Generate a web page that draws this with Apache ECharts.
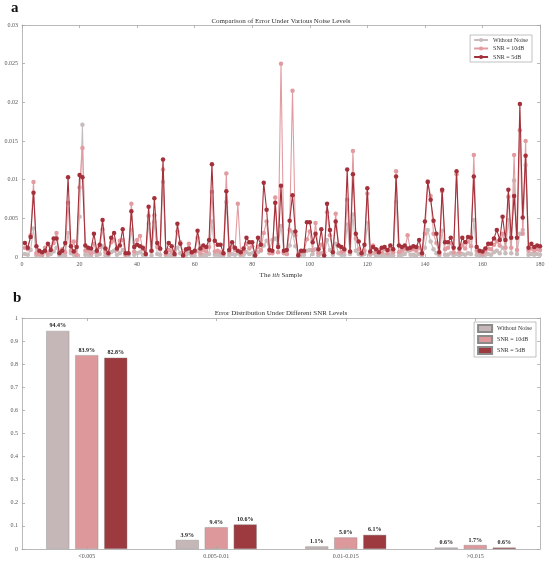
<!DOCTYPE html>
<html>
<head>
<meta charset="utf-8">
<script src="https://cdn.jsdelivr.net/npm/echarts@6/dist/echarts.min.js"></script>
<style>
    html, body {margin: 0; padding: 0; background: #fff;}
    #chartA {position: absolute; left: 0; top: 0; width: 546px; height: 282px;}
    #chartB {position: absolute; left: 0; top: 282px; width: 546px; height: 283px;}
</style>
</head>
<body>
<div id="chartA"></div>
<div id="chartB"></div>
<script>
// panel a: relative error per sample (samples 1..180)
const withoutNoise = [
    0.0004, 0.0003, 0.0009, 0.0037, 0.0002, 0.0003, 0.0002, 0.0006, 0.0002, 0.0004,
    0.0007, 0.0012, 0.0002, 0.0003, 0.0002, 0.0031, 0.0005, 0.0003, 0.0002, 0.0052,
    0.0171, 0.0003, 0.0003, 0.0002, 0.0006, 0.0002, 0.0004, 0.0014, 0.0002, 0.0002,
    0.0006, 0.0008, 0.0003, 0.0005, 0.0009, 0.0002, 0.0002, 0.0035, 0.0003, 0.0005,
    0.0006, 0.0003, 0.0002, 0.0043, 0.0002, 0.0045, 0.0004, 0.0003, 0.0097, 0.0002,
    0.0003, 0.0002, 0.0002, 0.0012, 0.0005, 0.0002, 0.0003, 0.0005, 0.0002, 0.0002,
    0.0008, 0.0002, 0.0003, 0.0002, 0.0004, 0.0046, 0.0003, 0.0003, 0.0002, 0.0002,
    0.0071, 0.0002, 0.0004, 0.0003, 0.0005, 0.0002, 0.0003, 0.0006, 0.0004, 0.0005,
    0.0002, 0.0006, 0.0008, 0.0015, 0.0021, 0.0009, 0.0022, 0.0024, 0.0016, 0.0040,
    0.0006, 0.0004, 0.0015, 0.0032, 0.0014, 0.0002, 0.0003, 0.0003, 0.0008, 0.0009,
    0.0004, 0.0010, 0.0002, 0.0005, 0.0002, 0.0022, 0.0009, 0.0003, 0.0017, 0.0005,
    0.0003, 0.0003, 0.0042, 0.0004, 0.0055, 0.0008, 0.0004, 0.0002, 0.0004, 0.0044,
    0.0003, 0.0005, 0.0002, 0.0003, 0.0002, 0.0003, 0.0002, 0.0003, 0.0002, 0.0071,
    0.0002, 0.0003, 0.0004, 0.0008, 0.0003, 0.0003, 0.0002, 0.0004, 0.0002, 0.0012,
    0.0035, 0.0020, 0.0010, 0.0005, 0.0002, 0.0034, 0.0003, 0.0003, 0.0005, 0.0002,
    0.0004, 0.0002, 0.0004, 0.0003, 0.0005, 0.0004, 0.0048, 0.0003, 0.0002, 0.0002,
    0.0003, 0.0004, 0.0003, 0.0006, 0.0008, 0.0005, 0.0012, 0.0005, 0.0048, 0.0005,
    0.0099, 0.0004, 0.0030, 0.0035, 0.0119, 0.0003, 0.0004, 0.0003, 0.0004, 0.0003
];
const snr10 = [
    0.0012, 0.0010, 0.0028, 0.0097, 0.0005, 0.0004, 0.0003, 0.0012, 0.0005, 0.0013,
    0.0018, 0.0031, 0.0006, 0.0010, 0.0006, 0.0070, 0.0008, 0.0020, 0.0003, 0.0090,
    0.0141, 0.0008, 0.0008, 0.0005, 0.0017, 0.0006, 0.0013, 0.0036, 0.0006, 0.0004,
    0.0019, 0.0022, 0.0009, 0.0021, 0.0022, 0.0003, 0.0005, 0.0069, 0.0007, 0.0022,
    0.0027, 0.0010, 0.0004, 0.0053, 0.0007, 0.0054, 0.0013, 0.0010, 0.0113, 0.0004,
    0.0009, 0.0007, 0.0003, 0.0033, 0.0019, 0.0005, 0.0008, 0.0017, 0.0005, 0.0006,
    0.0025, 0.0005, 0.0009, 0.0007, 0.0013, 0.0084, 0.0007, 0.0008, 0.0006, 0.0004,
    0.0108, 0.0006, 0.0013, 0.0009, 0.0069, 0.0004, 0.0008, 0.0017, 0.0011, 0.0014,
    0.0003, 0.0013, 0.0009, 0.0031, 0.0046, 0.0005, 0.0005, 0.0077, 0.0006, 0.0250,
    0.0005, 0.0004, 0.0035, 0.0215, 0.0028, 0.0004, 0.0006, 0.0007, 0.0023, 0.0033,
    0.0009, 0.0044, 0.0005, 0.0016, 0.0006, 0.0058, 0.0028, 0.0008, 0.0056, 0.0015,
    0.0006, 0.0008, 0.0074, 0.0006, 0.0137, 0.0024, 0.0010, 0.0004, 0.0008, 0.0082,
    0.0005, 0.0015, 0.0006, 0.0009, 0.0006, 0.0010, 0.0005, 0.0009, 0.0006, 0.0111,
    0.0006, 0.0008, 0.0010, 0.0028, 0.0009, 0.0010, 0.0008, 0.0012, 0.0004, 0.0030,
    0.0098, 0.0079, 0.0030, 0.0018, 0.0004, 0.0085, 0.0010, 0.0012, 0.0018, 0.0006,
    0.0107, 0.0006, 0.0015, 0.0011, 0.0020, 0.0014, 0.0132, 0.0008, 0.0006, 0.0004,
    0.0007, 0.0011, 0.0010, 0.0016, 0.0020, 0.0015, 0.0030, 0.0012, 0.0078, 0.0012,
    0.0132, 0.0009, 0.0164, 0.0030, 0.0150, 0.0008, 0.0011, 0.0008, 0.0010, 0.0009
];
const snr5 = [
    0.0018, 0.0012, 0.0026, 0.0083, 0.0014, 0.0008, 0.0006, 0.0008, 0.0017, 0.0009,
    0.0024, 0.0024, 0.0005, 0.0008, 0.0018, 0.0103, 0.0014, 0.0007, 0.0013, 0.0106,
    0.0103, 0.0015, 0.0012, 0.0011, 0.0030, 0.0008, 0.0016, 0.0048, 0.0011, 0.0005,
    0.0025, 0.0031, 0.0011, 0.0015, 0.0036, 0.0005, 0.0005, 0.0059, 0.0013, 0.0016,
    0.0014, 0.0012, 0.0004, 0.0065, 0.0008, 0.0076, 0.0018, 0.0011, 0.0126, 0.0006,
    0.0018, 0.0014, 0.0004, 0.0043, 0.0017, 0.0002, 0.0010, 0.0011, 0.0006, 0.0008,
    0.0034, 0.0011, 0.0015, 0.0013, 0.0022, 0.0120, 0.0021, 0.0016, 0.0016, 0.0005,
    0.0085, 0.0009, 0.0019, 0.0012, 0.0008, 0.0006, 0.0011, 0.0025, 0.0019, 0.0019,
    0.0002, 0.0025, 0.0016, 0.0096, 0.0061, 0.0009, 0.0008, 0.0070, 0.0013, 0.0092,
    0.0008, 0.0009, 0.0047, 0.0080, 0.0033, 0.0002, 0.0008, 0.0008, 0.0045, 0.0045,
    0.0019, 0.0030, 0.0010, 0.0036, 0.0002, 0.0069, 0.0035, 0.0006, 0.0046, 0.0015,
    0.0013, 0.0010, 0.0113, 0.0007, 0.0107, 0.0030, 0.0020, 0.0005, 0.0016, 0.0089,
    0.0007, 0.0013, 0.0010, 0.0006, 0.0012, 0.0013, 0.0009, 0.0015, 0.0010, 0.0104,
    0.0015, 0.0013, 0.0015, 0.0011, 0.0012, 0.0014, 0.0013, 0.0022, 0.0005, 0.0046,
    0.0097, 0.0074, 0.0047, 0.0030, 0.0006, 0.0087, 0.0019, 0.0019, 0.0025, 0.0012,
    0.0111, 0.0011, 0.0025, 0.0019, 0.0026, 0.0025, 0.0104, 0.0013, 0.0008, 0.0007,
    0.0011, 0.0017, 0.0017, 0.0024, 0.0035, 0.0022, 0.0052, 0.0022, 0.0087, 0.0025,
    0.0079, 0.0025, 0.0198, 0.0051, 0.0131, 0.0012, 0.0017, 0.0013, 0.0015, 0.0014
];

// panel b: share of samples per error bin
const errorBins = ['<0.005', '0.005-0.01', '0.01-0.015', '>0.015'];
const shareWithoutNoise = [0.944, 0.039, 0.011, 0.006];
const shareSnr10 = [0.839, 0.094, 0.050, 0.017];
const shareSnr5 = [0.828, 0.106, 0.061, 0.006];

const seriesNames = ['Without Noise', 'SNR = 10dB', 'SNR = 5dB'];
const lineColors = ['#c8bcbd', '#e29ca1', '#a3303a'];
const barColors = ['#c5b6b7', '#dd989c', '#9c3a3f'];

const font = 'Liberation Serif';
const axisGray = '#a8a8a8';
const labelGray = '#555';

function boxAxis(extra) {
    // MATLAB-like box: axis line plus inward ticks, no labels
    return Object.assign({
        axisLine: {show: true, onZero: false, lineStyle: {color: axisGray, width: 0.8}},
        axisTick: {show: true, inside: true, length: 3, lineStyle: {color: axisGray, width: 0.8}},
        axisLabel: {show: false},
        splitLine: {show: false}
    }, extra);
}

document.addEventListener('DOMContentLoaded', () => {

    const toPairs = arr => arr.map((v, i) => [i + 1, v]);

    const lineChart = echarts.init(document.getElementById('chartA'));
    lineChart.setOption({
        animation: false,
        textStyle: {fontFamily: font},
        graphic: [
            {type: 'text', left: 11, top: 1, style: {text: 'a', font: 'bold 15px "Liberation Serif"', fill: '#111'}},
            {type: 'text', x: 281, y: 21, style: {text: 'Comparison of Error Under Various Noise Levels', font: '7px "Liberation Serif"', fill: '#333', textAlign: 'center', textVerticalAlign: 'middle'}}
        ],
        legend: {
            orient: 'vertical',
            right: 14,
            top: 35,
            padding: [2, 4, 2, 3],
            itemWidth: 14,
            itemHeight: 5,
            itemGap: 2.5,
            borderColor: '#999',
            borderWidth: 0.6,
            backgroundColor: '#fff',
            textStyle: {fontFamily: font, fontSize: 6, color: '#333'},
            data: seriesNames
        },
        grid: {left: 22, top: 25, right: 6, height: 232, outerBoundsMode: 'none', containLabel: false},
        xAxis: [
            boxAxis({
                type: 'value', min: 0, max: 180, interval: 20,
                axisLabel: {show: true, fontSize: 6, color: labelGray, margin: 4},
                name: '{n|The }{i|ith}{n| Sample}',
                nameLocation: 'middle',
                nameGap: 11,
                nameTextStyle: {
                    rich: {
                        n: {fontFamily: font, fontSize: 7, color: '#333'},
                        i: {fontFamily: font, fontSize: 7, color: '#333', fontStyle: 'italic'}
                    }
                }
            }),
            boxAxis({type: 'value', position: 'top', min: 0, max: 180, interval: 20})
        ],
        yAxis: [
            boxAxis({
                type: 'value', min: 0, max: 0.03, interval: 0.005,
                axisLabel: {show: true, fontSize: 6, color: labelGray, margin: 4},
                name: 'Averaging Relative Error',
                nameLocation: 'middle',
                nameGap: 13,
                nameTextStyle: {fontFamily: font, fontSize: 7, color: '#333'}
            }),
            boxAxis({type: 'value', position: 'right', min: 0, max: 0.03, interval: 0.005})
        ],
        series: [withoutNoise, snr10, snr5].map((arr, k) => ({
            name: seriesNames[k],
            type: 'line',
            data: toPairs(arr),
            symbol: 'circle',
            symbolSize: 4.5,
            lineStyle: {color: lineColors[k], width: 1.1},
            itemStyle: {color: lineColors[k]},
            z: 2 + k
        }))
    });

    const barChart = echarts.init(document.getElementById('chartB'));
    barChart.setOption({
        animation: false,
        textStyle: {fontFamily: font},
        graphic: [
            {type: 'text', left: 13, top: 9, style: {text: 'b', font: 'bold 15px "Liberation Serif"', fill: '#111'}},
            {type: 'text', x: 281, y: 31, style: {text: 'Error Distribution Under Different SNR Levels', font: '7px "Liberation Serif"', fill: '#333', textAlign: 'center', textVerticalAlign: 'middle'}}
        ],
        legend: {
            orient: 'vertical',
            right: 10,
            top: 40,
            padding: [2, 4, 2, 3],
            itemWidth: 14,
            itemHeight: 7,
            itemGap: 2,
            icon: 'rect',
            borderColor: '#999',
            borderWidth: 0.6,
            backgroundColor: '#fff',
            textStyle: {fontFamily: font, fontSize: 6, color: '#333'},
            data: seriesNames
        },
        grid: {left: 22, top: 36, right: 6, bottom: 16, outerBoundsMode: 'none', containLabel: false},
        xAxis: [
            boxAxis({
                type: 'category', data: errorBins,
                axisTick: {show: true, inside: true, alignWithLabel: true, length: 3, lineStyle: {color: axisGray, width: 0.8}},
                axisLabel: {show: true, fontSize: 6, color: labelGray, margin: 4},
                name: 'Error',
                nameLocation: 'middle',
                nameGap: 10,
                nameTextStyle: {fontFamily: font, fontSize: 7, color: '#333'},
                z: 10
            }),
            boxAxis({
                type: 'category', data: errorBins, position: 'top',
                axisTick: {show: true, inside: true, alignWithLabel: true, length: 3, lineStyle: {color: axisGray, width: 0.8}}
            })
        ],
        yAxis: [
            boxAxis({
                type: 'value', min: 0, max: 1, interval: 0.1,
                axisLabel: {show: true, fontSize: 6, color: labelGray, margin: 4},
                name: 'Proportion of Samples',
                nameLocation: 'middle',
                nameGap: 13,
                nameTextStyle: {fontFamily: font, fontSize: 7, color: '#333'}
            }),
            boxAxis({type: 'value', position: 'right', min: 0, max: 1, interval: 0.1})
        ],
        series: [shareWithoutNoise, shareSnr10, shareSnr5].map((arr, k) => ({
            name: seriesNames[k],
            type: 'bar',
            data: arr,
            barWidth: 23,
            barGap: '26%',
            itemStyle: {color: barColors[k], borderColor: '#8a8a8a', borderWidth: 0.4},
            label: {
                show: true,
                position: 'top',
                distance: 2,
                fontFamily: font,
                fontSize: 6,
                fontWeight: 'bold',
                color: '#222',
                formatter: p => (p.value * 100).toFixed(1) + '%'
            }
        }))
    });
});
</script>
</body>
</html>
